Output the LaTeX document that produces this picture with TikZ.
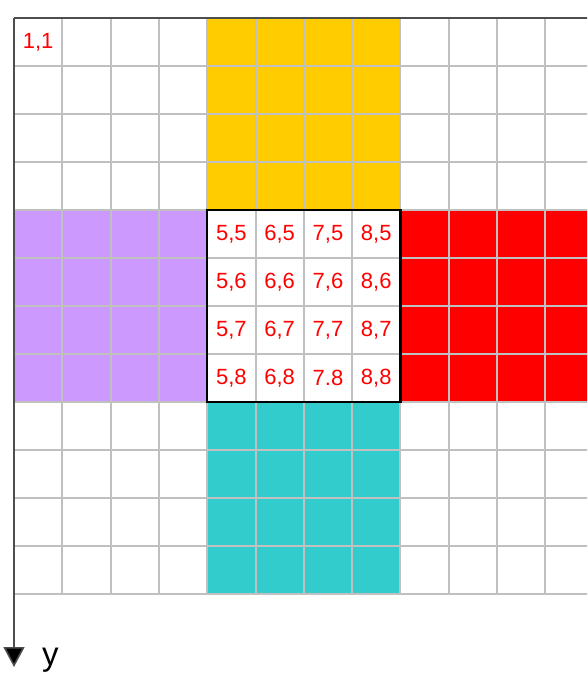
\documentclass[tikz,border=0pt]{standalone}
\usepackage{fontspec}
\setmainfont{Liberation Sans}
\usetikzlibrary{arrows.meta}
\definecolor{cyel}{HTML}{FFCC00}
\definecolor{cpur}{HTML}{CC99FF}
\definecolor{cred}{HTML}{FF0000}
\definecolor{ccya}{HTML}{33CCCC}
\definecolor{cgrid}{HTML}{C0C0C0}
\definecolor{caxis}{HTML}{4D4D4D}
\begin{document}
\begin{tikzpicture}[x=1pt,y=-1pt,
  lbl/.style={text=cred,font=\fontsize{22}{26}\selectfont,inner sep=0pt},
  gridline/.style={draw=cgrid,line width=2pt},
  axisline/.style={draw=caxis,line width=1.6pt},
  box/.style={draw=black,line width=2.2pt}]
\useasboundingbox (0,0) rectangle (587,675);
\begin{scope}
\clip (0,0) rectangle (587,675);
\def\cw{48.3}
\def\ch{48}
% coloured blocks
\fill[cyel] (14+4*\cw,18) rectangle (14+8*\cw,18+4*\ch);
\fill[cpur] (14,18+4*\ch) rectangle (14+4*\cw,18+8*\ch);
\fill[cred] (14+8*\cw,18+4*\ch) rectangle (14+12*\cw,18+8*\ch);
\fill[ccya] (14+4*\cw,18+8*\ch) rectangle (14+8*\cw,18+12*\ch);
% grid
\foreach \i in {1,...,12} {
  \draw[gridline] (14+\i*\cw,18) -- (14+\i*\cw,18+12*\ch);
  \draw[gridline] (14,18+\i*\ch) -- (14+12*\cw,18+\i*\ch);
}
% centre box
\draw[box] (14+4*\cw,18+4*\ch) rectangle (14+8*\cw,18+8*\ch);
% axes
\coordinate (o) at (14,18);
\coordinate (xend) at (600,18);
\coordinate (yend) at (14,667);
\draw[axisline] (o) -- (xend);
\draw[axisline,-{Triangle[width=21pt,length=20pt,fill=black]}] (o) -- (yend);
\node[font=\fontsize{33}{38}\selectfont,anchor=base west,inner sep=0pt] (ylbl) at (42,665) {y};
% labels
\node[lbl] (c11) at (14+0.5*\cw,18+0.5*\ch) {1,1};
\foreach \c in {5,6,7,8} {
  \foreach \r in {5,6,7,8} {
    \node[lbl] (c\c\r) at (14+\c*\cw-0.5*\cw,18+\r*\ch-0.5*\ch) {\ifnum\c\r=78 7.8\else\c,\r\fi};
  }
}
\end{scope}
\end{tikzpicture}
\end{document}
